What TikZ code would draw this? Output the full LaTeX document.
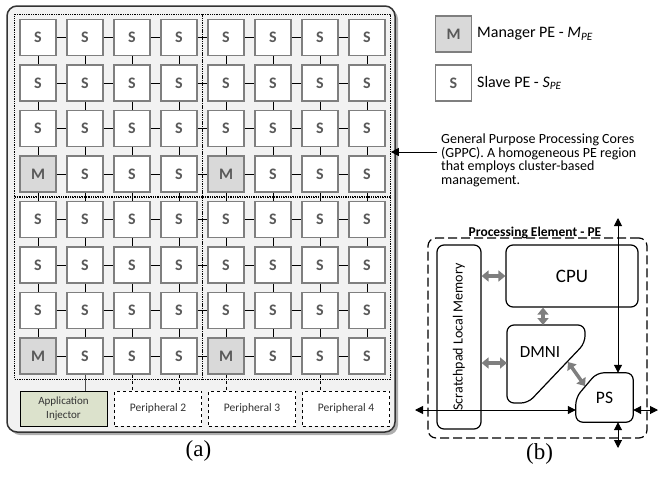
\documentclass[tikz,border=0pt]{standalone}
\usepackage{fontspec}
\setmainfont{Carlito}
\newfontfamily\capfont{Liberation Serif}
\usetikzlibrary{arrows.meta,fit,shadows,positioning}
\definecolor{panelgray}{HTML}{F2F2F2}
\definecolor{mgray}{HTML}{D9D9D9}
\definecolor{txtgray}{HTML}{595959}
\definecolor{boxgray}{HTML}{7F7F7F}
\definecolor{injgreen}{HTML}{DCE2CC}
\begin{document}
\begin{tikzpicture}[x=1pt,y=-1pt]
  \tikzset{>=Stealth,
    pecell/.style={draw=boxgray, line width=1.4pt, fill=white, minimum size=36pt, inner sep=0pt,
      text=txtgray, font=\fontsize{16}{18}\selectfont\bfseries},
    mcell/.style={pecell, fill=mgray},
    cluster/.style={draw, densely dotted, line width=1.3pt, inner sep=4.5pt},
    periph/.style={draw, dashed, line width=0.9pt, fill=white, minimum width=87pt, minimum height=35pt,
      font=\fontsize{11.5}{13.5}\selectfont, align=center, text=black!80},
    link/.style={line width=0.9pt},
    garrow/.style={draw=boxgray, line width=3.5pt, {Triangle[width=11pt,length=7pt]}-{Triangle[width=11pt,length=7pt]}},
    barrow/.style={line width=1pt, {Triangle[width=8pt,length=8pt]}-{Triangle[width=8pt,length=8pt]}},
    peblock/.style={draw, line width=1.2pt, rounded corners=7pt}
  }
  \useasboundingbox (0,0) rectangle (659,477);

  % chip panel
  \path[draw=black!80, line width=1.5pt, fill=panelgray, rounded corners=10pt,
    drop shadow={shadow xshift=3pt, shadow yshift=-3pt, fill=black!45, opacity=0.7}]
    (7,6) rectangle (395,432);

  % 8x8 grid of PEs
  \foreach \r in {1,...,8} {
    \foreach \c in {1,...,8} {
      \pgfmathtruncatemacro\ism{(mod(\r,4)==0)&&(mod(\c,4)==1)}
      \ifnum\ism=1
        \node[mcell] (c\r-\c) at ({38+(\c-1)*47},{37.5+(\r-1)*45.5}) {M};
      \else
        \node[pecell] (c\r-\c) at ({38+(\c-1)*47},{37.5+(\r-1)*45.5}) {S};
      \fi
    }
  }
  \foreach \i/\a/\b in {1/1-1/4-4, 2/1-5/4-8, 3/5-1/8-4, 4/5-5/8-8}
    \node[cluster, fit=(c\a)(c\b)] (cl\i) {};
  \foreach \r in {1,...,8} {
    \foreach \c [evaluate=\c as \n using int(\c+1)] in {1,...,7} {
      \draw[link] (c\r-\c) -- (c\r-\n);
      \draw[link] (c\c-\r) -- (c\n-\r);
    }
  }

  % peripherals
  \node[periph, solid, fill=injgreen, font=\fontsize{11}{13.5}\selectfont] (inj) at (63.5,408.5) {Application\\Injector};
  \node[periph] (per2) at (158,408.5) {Peripheral 2};
  \node[periph] (per3) at (252,408.5) {Peripheral 3};
  \node[periph] (per4) at (346,408.5) {Peripheral 4};
  \draw[link, black!70] (c8-2) -- (c8-2 |- inj.north);
  \foreach \c/\p in {3/per2, 4/per2, 5/per3, 7/per4}
    \draw[link, dashed] (c8-\c) -- (c8-\c |- \p.north);

  % legend
  \node[mcell] (lgm) at (453.5,34) {M};
  \node[right=1.5pt of lgm, font=\fontsize{16}{18}\selectfont] (lgmtxt) {Manager PE - \textit{M}\textsubscript{\textit{PE}}};
  \node[pecell] (lgs) at (453.5,83) {S};
  \node[right=1.5pt of lgs, font=\fontsize{16}{18}\selectfont] (lgstxt) {Slave PE - \textit{S}\textsubscript{\textit{PE}}};

  % GPPC note
  \node[anchor=north west, align=left, inner sep=0pt, font=\fontsize{14}{13.5}\selectfont] (gppc) at (441,134)
    {General Purpose Processing Cores\\(GPPC). A homogeneous PE region\\that employs cluster-based\\management.};
  \coordinate (gppc-tail) at (437,152);
  \draw[line width=1pt, -{Triangle[width=8pt,length=8pt]}] (gppc-tail) -- (cl2.east |- gppc-tail);

  % processing element (b)
  \node[draw, line width=1.2pt, dash pattern=on 9pt off 4pt, rounded corners=8pt,
    minimum width=219pt, minimum height=200pt] (pe) at (537.5,338) {};
  \node[anchor=base, font=\fontsize{13.5}{16}\selectfont\bfseries] (petitle) at (535,236) {Processing Element - PE};
  \node[peblock, minimum width=44pt, minimum height=184pt] (spm) at (459,337) {};
  \node[rotate=90, font=\fontsize{14}{16}\selectfont] (spmlbl) at (spm) {Scratchpad Local Memory};
  \node[peblock, minimum width=132pt, minimum height=62pt, font=\fontsize{19}{22}\selectfont] (cpu) at (572,276) {CPU};
  \node[font=\fontsize{17}{20}\selectfont] (dmni) at (540,352) {DMNI};
  \draw[peblock] (507,325) -- (585,325) -- (585,343) -- (528,403) -- (507,403) -- cycle;
  \node[minimum width=57pt, minimum height=49pt, inner sep=0pt, font=\fontsize{17.5}{20}\selectfont] (ps) at (604.5,397.5) {PS};
  \draw[peblock] (ps.west) -- ([xshift=21pt]ps.north west) -- (ps.north east) -- (ps.south east)
    -- (ps.south west) -- cycle;

  \coordinate (dmni-n) at (543,325);
  \coordinate (dmni-w) at (507,363);
  \coordinate (dmni-cut) at (568,362);
  \coordinate (ps-cut) at (585,386);
  \draw[garrow] (spm.east |- cpu.west) -- (cpu.west);
  \draw[garrow] (dmni-n |- cpu.south) -- (dmni-n);
  \draw[garrow] (spm.east |- dmni-w) -- (dmni-w);
  \draw[garrow] (dmni-cut) -- (ps-cut);

  \coordinate (pe-n) at (618,218);
  \coordinate (pe-w) at (415,410);
  \coordinate (pe-e) at (658,410);
  \coordinate (pe-s) at (618,448);
  \draw[barrow] (pe-n) -- (pe-n |- ps.north);
  \draw[barrow] (pe-w) -- (pe-w -| ps.west);
  \draw[barrow] (ps.east |- pe-e) -- (pe-e);
  \draw[barrow] (pe-n |- ps.south) -- (pe-s);

  % captions
  \node[font=\capfont\fontsize{23}{26}\selectfont] (capa) at (198.5,451) {(a)};
  \node[font=\capfont\fontsize{23}{26}\selectfont] (capb) at (539.5,454) {(b)};
\end{tikzpicture}
\end{document}
